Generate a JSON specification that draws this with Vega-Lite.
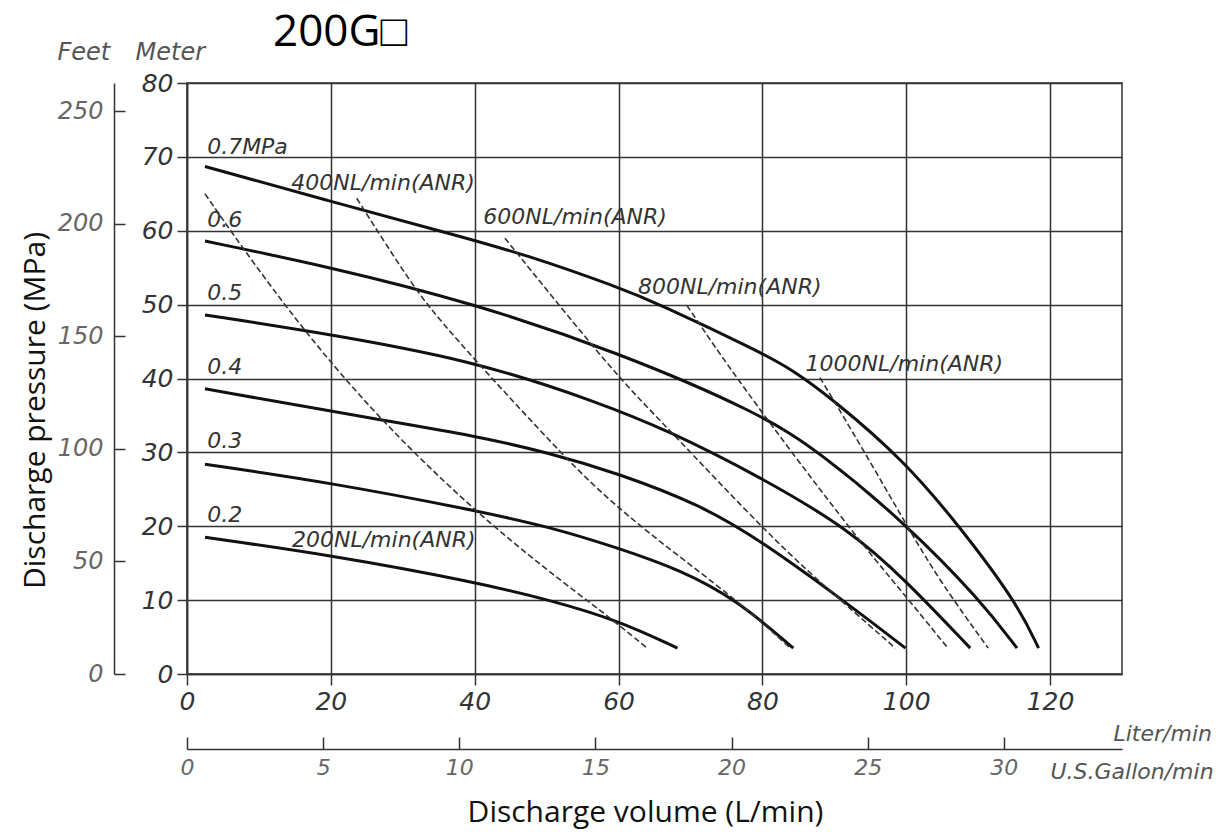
{
  "$schema": "https://vega.github.io/schema/vega-lite/v6.json",
  "width": 935,
  "height": 591,
  "autosize": {"type": "none"},
  "padding": {"left": 187, "top": 83, "right": 105, "bottom": 163},
  "background": "white",
  "config": {"view": {"stroke": "#333", "strokeWidth": 1.5}},
  "title": {"text": "200G□", "anchor": "start", "frame": "group", "dx": 86, "dy": 19, "fontSize": 44, "font": "Open Sans", "fontWeight": "normal", "color": "#000"},
  "datasets": {
    "curves": [
      {"series": "0.7", "kind": "pressure", "x": 2.5, "y": 68.7},
      {"series": "0.7", "kind": "pressure", "x": 19.9, "y": 64.0},
      {"series": "0.7", "kind": "pressure", "x": 36.6, "y": 59.6},
      {"series": "0.7", "kind": "pressure", "x": 47.7, "y": 56.6},
      {"series": "0.7", "kind": "pressure", "x": 59.8, "y": 52.4},
      {"series": "0.7", "kind": "pressure", "x": 65.4, "y": 50.2},
      {"series": "0.7", "kind": "pressure", "x": 79.7, "y": 43.6},
      {"series": "0.7", "kind": "pressure", "x": 84.3, "y": 41.1},
      {"series": "0.7", "kind": "pressure", "x": 89.9, "y": 37.1},
      {"series": "0.7", "kind": "pressure", "x": 99.6, "y": 29.0},
      {"series": "0.7", "kind": "pressure", "x": 107.5, "y": 19.9},
      {"series": "0.7", "kind": "pressure", "x": 115.4, "y": 9.6},
      {"series": "0.7", "kind": "pressure", "x": 118.4, "y": 3.5},
      {"series": "0.6", "kind": "pressure", "x": 2.5, "y": 58.6},
      {"series": "0.6", "kind": "pressure", "x": 19.9, "y": 55.1},
      {"series": "0.6", "kind": "pressure", "x": 39.8, "y": 50.2},
      {"series": "0.6", "kind": "pressure", "x": 59.8, "y": 43.6},
      {"series": "0.6", "kind": "pressure", "x": 79.7, "y": 35.3},
      {"series": "0.6", "kind": "pressure", "x": 88.0, "y": 30.0},
      {"series": "0.6", "kind": "pressure", "x": 99.9, "y": 20.4},
      {"series": "0.6", "kind": "pressure", "x": 110.3, "y": 10.0},
      {"series": "0.6", "kind": "pressure", "x": 115.4, "y": 3.5},
      {"series": "0.5", "kind": "pressure", "x": 2.5, "y": 48.6},
      {"series": "0.5", "kind": "pressure", "x": 16.7, "y": 46.5},
      {"series": "0.5", "kind": "pressure", "x": 39.8, "y": 42.5},
      {"series": "0.5", "kind": "pressure", "x": 57.4, "y": 36.7},
      {"series": "0.5", "kind": "pressure", "x": 66.8, "y": 33.0},
      {"series": "0.5", "kind": "pressure", "x": 79.7, "y": 26.7},
      {"series": "0.5", "kind": "pressure", "x": 92.2, "y": 19.5},
      {"series": "0.5", "kind": "pressure", "x": 99.9, "y": 12.7},
      {"series": "0.5", "kind": "pressure", "x": 108.9, "y": 3.5},
      {"series": "0.4", "kind": "pressure", "x": 2.5, "y": 38.6},
      {"series": "0.4", "kind": "pressure", "x": 26.8, "y": 34.4},
      {"series": "0.4", "kind": "pressure", "x": 39.8, "y": 32.3},
      {"series": "0.4", "kind": "pressure", "x": 50.5, "y": 29.9},
      {"series": "0.4", "kind": "pressure", "x": 59.8, "y": 27.2},
      {"series": "0.4", "kind": "pressure", "x": 71.4, "y": 22.9},
      {"series": "0.4", "kind": "pressure", "x": 79.7, "y": 18.1},
      {"series": "0.4", "kind": "pressure", "x": 91.2, "y": 10.0},
      {"series": "0.4", "kind": "pressure", "x": 99.9, "y": 3.5},
      {"series": "0.3", "kind": "pressure", "x": 2.5, "y": 28.4},
      {"series": "0.3", "kind": "pressure", "x": 19.9, "y": 25.9},
      {"series": "0.3", "kind": "pressure", "x": 39.8, "y": 22.2},
      {"series": "0.3", "kind": "pressure", "x": 50.5, "y": 19.9},
      {"series": "0.3", "kind": "pressure", "x": 59.8, "y": 17.1},
      {"series": "0.3", "kind": "pressure", "x": 68.6, "y": 14.1},
      {"series": "0.3", "kind": "pressure", "x": 76.5, "y": 10.0},
      {"series": "0.3", "kind": "pressure", "x": 84.3, "y": 3.5},
      {"series": "0.2", "kind": "pressure", "x": 2.5, "y": 18.5},
      {"series": "0.2", "kind": "pressure", "x": 19.9, "y": 16.1},
      {"series": "0.2", "kind": "pressure", "x": 39.8, "y": 12.5},
      {"series": "0.2", "kind": "pressure", "x": 50.5, "y": 10.0},
      {"series": "0.2", "kind": "pressure", "x": 59.8, "y": 7.3},
      {"series": "0.2", "kind": "pressure", "x": 68.2, "y": 3.5},
      {"series": "200", "kind": "air", "x": 2.5, "y": 65.0},
      {"series": "200", "kind": "air", "x": 7.4, "y": 58.1},
      {"series": "200", "kind": "air", "x": 16.1, "y": 46.6},
      {"series": "200", "kind": "air", "x": 26.8, "y": 34.4},
      {"series": "200", "kind": "air", "x": 39.8, "y": 22.2},
      {"series": "200", "kind": "air", "x": 50.5, "y": 13.7},
      {"series": "200", "kind": "air", "x": 57.4, "y": 8.7},
      {"series": "200", "kind": "air", "x": 64.0, "y": 3.5},
      {"series": "400", "kind": "air", "x": 23.6, "y": 64.4},
      {"series": "400", "kind": "air", "x": 31.4, "y": 52.4},
      {"series": "400", "kind": "air", "x": 36.2, "y": 46.6},
      {"series": "400", "kind": "air", "x": 50.5, "y": 31.4},
      {"series": "400", "kind": "air", "x": 57.4, "y": 24.6},
      {"series": "400", "kind": "air", "x": 65.4, "y": 18.1},
      {"series": "400", "kind": "air", "x": 76.5, "y": 10.0},
      {"series": "400", "kind": "air", "x": 83.9, "y": 3.5},
      {"series": "600", "kind": "air", "x": 44.2, "y": 59.0},
      {"series": "600", "kind": "air", "x": 59.8, "y": 40.2},
      {"series": "600", "kind": "air", "x": 65.8, "y": 34.4},
      {"series": "600", "kind": "air", "x": 81.5, "y": 18.1},
      {"series": "600", "kind": "air", "x": 91.2, "y": 9.7},
      {"series": "600", "kind": "air", "x": 98.5, "y": 3.5},
      {"series": "800", "kind": "air", "x": 69.5, "y": 49.9},
      {"series": "800", "kind": "air", "x": 76.5, "y": 39.8},
      {"series": "800", "kind": "air", "x": 92.2, "y": 19.5},
      {"series": "800", "kind": "air", "x": 99.2, "y": 11.4},
      {"series": "800", "kind": "air", "x": 105.8, "y": 3.5},
      {"series": "1000", "kind": "air", "x": 88.0, "y": 40.1},
      {"series": "1000", "kind": "air", "x": 89.9, "y": 37.1},
      {"series": "1000", "kind": "air", "x": 95.0, "y": 28.7},
      {"series": "1000", "kind": "air", "x": 99.9, "y": 20.4},
      {"series": "1000", "kind": "air", "x": 104.7, "y": 12.5},
      {"series": "1000", "kind": "air", "x": 111.4, "y": 3.5}
    ],
    "labels": [
      {"text": "0.7MPa", "x": 2.8, "y": 71.4},
      {"text": "0.6", "x": 2.8, "y": 61.4},
      {"text": "0.5", "x": 2.8, "y": 51.6},
      {"text": "0.4", "x": 2.8, "y": 41.5},
      {"text": "0.3", "x": 2.8, "y": 31.5},
      {"text": "0.2", "x": 2.8, "y": 21.5},
      {"text": "400NL/min(ANR)", "x": 14.5, "y": 66.4},
      {"text": "600NL/min(ANR)", "x": 41.2, "y": 61.8},
      {"text": "800NL/min(ANR)", "x": 62.7, "y": 52.4},
      {"text": "1000NL/min(ANR)", "x": 86.0, "y": 41.9},
      {"text": "200NL/min(ANR)", "x": 14.6, "y": 18.1}
    ],
    "gallon": [{"gal": 0}, {"gal": 34.342}],
    "feet": [{"ft": 0}, {"ft": 262.467}],
    "frame": [{"a": 0, "b": 0}, {"a": 1, "b": 1}]
  },
  "layer": [
    {
      "encoding": {
        "x": {"field": "x", "type": "quantitative",
          "scale": {"domain": [0, 130], "nice": false, "zero": false},
          "axis": {"title": "Liter/min", "values": [0, 20, 40, 60, 80, 100, 120], "grid": true, "gridColor": "#333", "gridWidth": 1.5,
            "domainColor": "#333", "domainWidth": 1.5, "tickColor": "#333", "tickWidth": 1.5, "tickSize": 11, "labelPadding": 4,
            "labelFont": "DejaVu Sans", "labelFontStyle": "italic", "labelFontSize": 25, "labelColor": "#333", "labelFlush": false, "labelOverlap": false,
            "titleX": 926, "titleY": 59, "titleAlign": "left", "titleBaseline": "middle", "titleAngle": 0,
            "titleFont": "DejaVu Sans", "titleFontStyle": "italic", "titleFontWeight": "normal", "titleFontSize": 22, "titleColor": "#555"}},
        "y": {"field": "y", "type": "quantitative",
          "scale": {"domain": [0, 80], "nice": false, "zero": false},
          "axis": {"title": "Meter", "values": [0, 10, 20, 30, 40, 50, 60, 70, 80], "grid": true, "gridColor": "#333", "gridWidth": 1.5,
            "domainColor": "#333", "domainWidth": 1.5, "tickColor": "#333", "tickWidth": 1.5, "tickSize": 10, "labelPadding": 4,
            "labelFont": "DejaVu Sans", "labelFontStyle": "italic", "labelFontSize": 25, "labelColor": "#333", "labelFlush": false, "labelOverlap": false,
            "titleX": -52, "titleY": -31, "titleAlign": "left", "titleBaseline": "middle", "titleAngle": 0,
            "titleFont": "DejaVu Sans", "titleFontStyle": "italic", "titleFontWeight": "normal", "titleFontSize": 24, "titleColor": "#555"}}
      },
      "layer": [
        {"data": {"name": "curves"}, "transform": [{"filter": "datum.kind === 'pressure'"}],
          "mark": {"type": "line", "interpolate": "basis", "color": "#111", "strokeWidth": 3},
          "encoding": {"detail": {"field": "series"}}},
        {"data": {"name": "curves"}, "transform": [{"filter": "datum.kind === 'air'"}],
          "mark": {"type": "line", "interpolate": "basis", "color": "#333", "strokeWidth": 1.6, "strokeDash": [6, 3]},
          "encoding": {"detail": {"field": "series"}}},
        {"data": {"name": "labels"},
          "mark": {"type": "text", "align": "left", "baseline": "middle", "font": "DejaVu Sans", "fontStyle": "italic", "fontSize": 22, "color": "#333"},
          "encoding": {"text": {"field": "text"}}}
      ]
    },
    {
      "data": {"name": "gallon"},
      "mark": {"type": "point", "opacity": 0},
      "encoding": {
        "x": {"field": "gal", "type": "quantitative",
          "scale": {"domain": [0, 34.342], "nice": false, "zero": false},
          "axis": {"orient": "bottom", "offset": 75, "title": "U.S.Gallon/min", "values": [0, 5, 10, 15, 20, 25, 30], "grid": false,
            "domainColor": "#333", "domainWidth": 1.5, "tickColor": "#333", "tickWidth": 1.5, "tickSize": -12, "labelPadding": 20,
            "labelFont": "DejaVu Sans", "labelFontStyle": "italic", "labelFontSize": 22, "labelColor": "#666", "labelFlush": false, "labelOverlap": false,
            "titleX": 863, "titleY": 22, "titleAlign": "left", "titleBaseline": "middle", "titleAngle": 0,
            "titleFont": "DejaVu Sans", "titleFontStyle": "italic", "titleFontWeight": "normal", "titleFontSize": 22, "titleColor": "#555"}}
      }
    },
    {
      "data": {"name": "feet"},
      "mark": {"type": "point", "opacity": 0},
      "encoding": {
        "y": {"field": "ft", "type": "quantitative",
          "scale": {"domain": [0, 262.467], "nice": false, "zero": false},
          "axis": {"orient": "left", "offset": 73, "title": "Feet", "values": [0, 50, 100, 150, 200, 250], "grid": false,
            "domainColor": "#333", "domainWidth": 1.5, "tickColor": "#333", "tickWidth": 1.5, "tickSize": -11, "labelPadding": 22,
            "labelFont": "DejaVu Sans", "labelFontStyle": "italic", "labelFontSize": 24, "labelColor": "#666", "labelFlush": false, "labelOverlap": false,
            "titleX": -57, "titleY": -31, "titleAlign": "left", "titleBaseline": "middle", "titleAngle": 0,
            "titleFont": "DejaVu Sans", "titleFontStyle": "italic", "titleFontWeight": "normal", "titleFontSize": 24, "titleColor": "#555"}}
      }
    },
    {
      "data": {"name": "frame"},
      "mark": {"type": "point", "opacity": 0},
      "encoding": {
        "x": {"field": "a", "type": "quantitative",
          "axis": {"orient": "bottom", "domain": false, "ticks": false, "labels": false, "grid": false,
            "title": "Discharge volume (L/min)", "titleX": 458, "titleY": 138, "titleAlign": "center", "titleBaseline": "middle", "titleAngle": 0,
            "titleFont": "Open Sans", "titleFontWeight": "normal", "titleFontSize": 30, "titleColor": "#111"}},
        "y": {"field": "b", "type": "quantitative",
          "axis": {"orient": "left", "domain": false, "ticks": false, "labels": false, "grid": false,
            "title": "Discharge pressure (MPa)", "titleX": -152, "titleY": 327, "titleAlign": "center", "titleBaseline": "middle", "titleAngle": 270,
            "titleFont": "Open Sans", "titleFontWeight": "normal", "titleFontSize": 30, "titleColor": "#111"}}
      }
    }
  ],
  "resolve": {"scale": {"x": "independent", "y": "independent"}}
}
